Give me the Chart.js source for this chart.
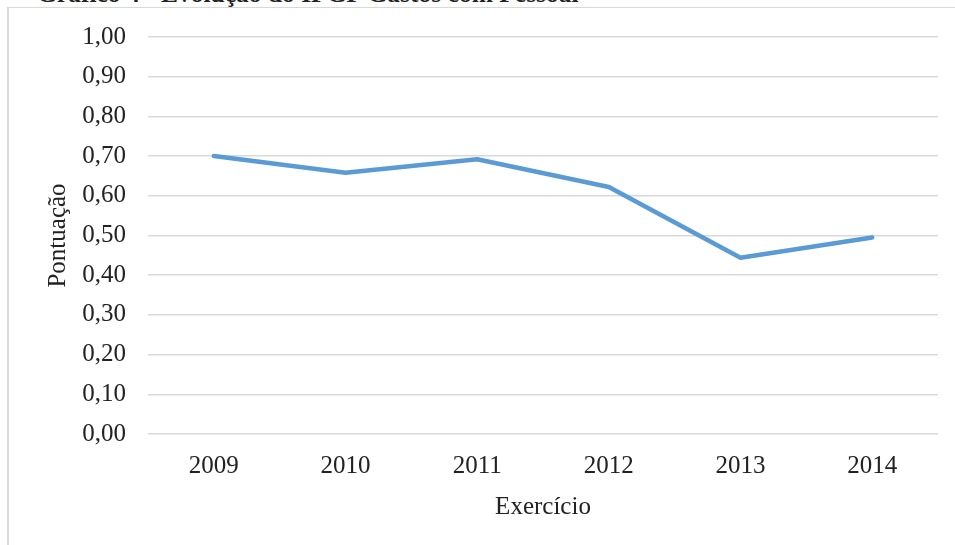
<!DOCTYPE html>
<html>
<head>
<meta charset="utf-8">
<script src="https://cdn.jsdelivr.net/npm/chart.js@4"></script>
<style>
  html, body { margin: 0; padding: 0; background: #fff; overflow: hidden; }
  #wrap { position: relative; width: 955px; height: 545px; }
  #frame { position: absolute; left: 7px; top: 7px; right: 0; bottom: 0;
           border-left: 2px solid #d9d9d9; border-top: 1px solid #d9d9d9; }
  #caption { position: absolute; left: 37px; top: -19px; white-space: nowrap;
             font: bold 25.5px/1 "Liberation Serif", serif; color: #222; }
  #myChart { position: absolute; left: 0; top: 0; }
</style>
</head>
<body>
<div id="wrap">
  <div id="frame"></div>
  <div id="caption">Gráfico 4 - Evolução do IFGF Gastos com Pessoal</div>
  <canvas id="myChart" width="955" height="545"></canvas>
</div>
<script>
let label = ['2009', '2010', '2011', '2012', '2013', '2014'];
let data1 = [0.70, 0.658, 0.692, 0.622, 0.444, 0.495];
let yTitle = 'Pontuação';
let xTitle = 'Exercício';

const serif = { family: '"Liberation Serif", serif', size: 25 };

const chartdata = {
  labels: label,
  datasets: [{
    label: 'IFGF Gastos com Pessoal',
    borderColor: '#5b9bd5',
    backgroundColor: '#5b9bd5',
    borderWidth: 4.5,
    borderCapStyle: 'round',
    borderJoinStyle: 'round',
    pointRadius: 0,
    tension: 0,
    data: data1
  }]
};

const config = {
  type: 'line',
  data: chartdata,
  options: {
    responsive: false,
    animation: false,
    layout: { padding: { left: 0, top: 36, right: 17, bottom: 16 } },
    plugins: { legend: { display: false }, tooltip: { enabled: false } },
    scales: {
      x: {
        offset: true,
        grid: { display: false },
        border: { display: false },
        ticks: { color: '#222', font: serif, padding: 9 },
        title: { display: true, text: xTitle, color: '#222', font: serif, padding: { top: 0, bottom: 7 } },
        afterFit: function (scale) { scale.height = 95; }
      },
      y: {
        min: 0,
        max: 1,
        ticks: {
          stepSize: 0.1,
          color: '#222',
          font: serif,
          padding: 22,
          callback: function (v) { return v.toFixed(2).replace('.', ','); }
        },
        grid: { color: '#d9d9d9', lineWidth: 1.5, drawTicks: false },
        border: { display: false },
        title: { display: true, text: yTitle, color: '#222', font: serif, padding: { top: 43, bottom: 0 } },
        afterFit: function (scale) { scale.width = 148; }
      }
    }
  }
};

var myChart = new Chart(document.getElementById('myChart'), config);
</script>
</body>
</html>
